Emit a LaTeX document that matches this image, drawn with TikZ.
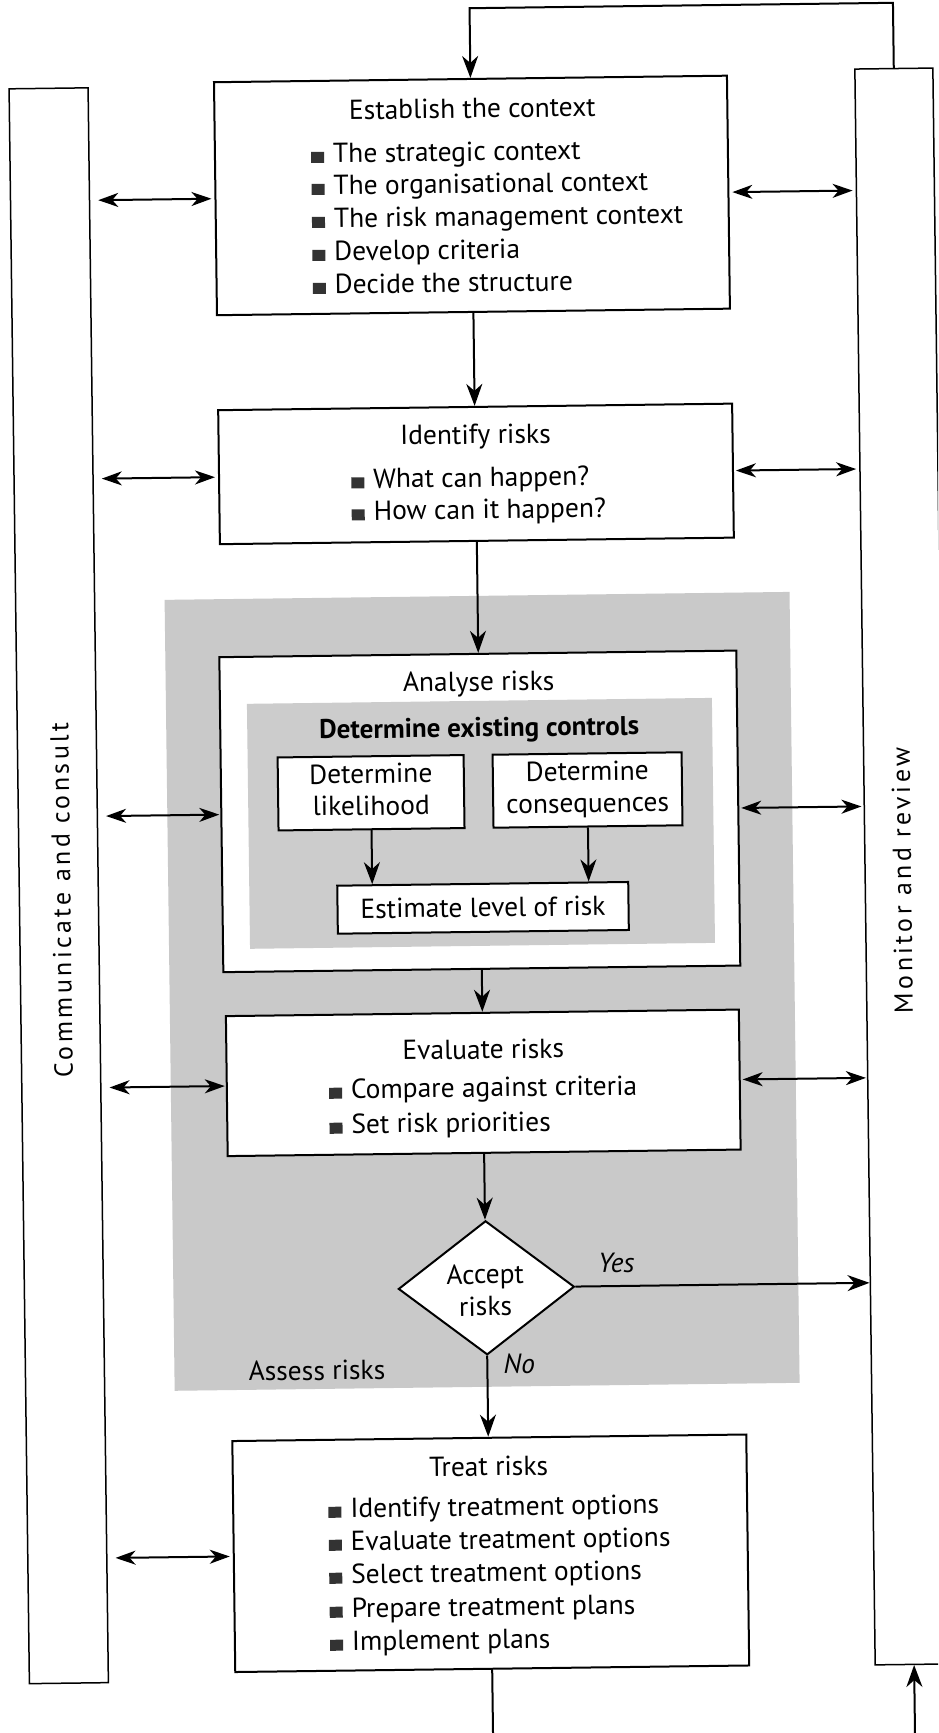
\documentclass[tikz,border=0pt]{standalone}
\usepackage{fontspec}
\setmainfont{PT Sans}
\newfontfamily\spacedfont[LetterSpace=13]{PT Sans}
\usetikzlibrary{arrows.meta,shapes.geometric}
\definecolor{assessgrey}{gray}{0.79}
\definecolor{innergrey}{gray}{0.80}
\definecolor{bulletc}{gray}{0.2}
\newcommand\bsq{{\color{bulletc}\rule{13pt}{11pt}}\hspace{9pt}}
\begin{document}
\begin{tikzpicture}[x=1pt,y=-1pt,
  box/.style={draw,line width=2pt,fill=white,inner sep=0pt},
  bar/.style={draw,line width=1.5pt,inner sep=0pt},
  txt/.style={inner sep=0pt,font=\fontsize{27.5}{32}\selectfont},
  ttl/.style={txt,anchor=base},
  bl/.style={txt,anchor=base west},
  side/.style={inner sep=0pt,rotate=90,font=\spacedfont\fontsize{26}{30}\selectfont},
  arr/.style={line width=2pt,-{Stealth[length=22pt,width=16pt,inset=7pt]}},
  darr/.style={line width=2pt,{Stealth[length=20pt,width=14pt,inset=6pt]}-{Stealth[length=20pt,width=14pt,inset=6pt]}},
]
\useasboundingbox (0,0) rectangle (938,1733);
\clip (0,0) rectangle (938,1733);
\fill[white] (0,0) rectangle (938,1733);
\begin{scope}[rotate around={0.73:(469,866)}, transform shape]
% side bars
\node[bar,minimum width=79pt,minimum height=1595pt] (cc) at (58.5,880.5) {};
\node[side] (cct) at (61,895) {Communicate and consult};
\node[bar,minimum width=78pt,minimum height=1596pt] (mr) at (904,872) {};
\node[side] (mrt) at (902,886) {Monitor and review};
% assess risks area
\node[fill=assessgrey,inner sep=0pt,minimum width=625pt,minimum height=791pt] (as) at (480.5,991.5) {};
\node[txt,anchor=base west] (asT) at (242,1378) {Assess risks};
% establish
\node[box,minimum width=513pt,minimum height=233pt] (est) at (480.5,195.5) {};
\node[ttl] (estT) at (482,118) {Establish the context};
\node[bl] (e1) at (320,161) {\bsq The strategic context};
\node[bl] (e2) at (320,193) {\bsq The organisational context};
\node[bl] (e3) at (320,226) {\bsq The risk management context};
\node[bl] (e4) at (320,259) {\bsq Develop criteria};
\node[bl] (e5) at (320,292) {\bsq Decide the structure};
% identify
\node[box,minimum width=514pt,minimum height=134pt] (ide) at (481,474) {};
\node[ttl] (ideT) at (481,444) {Identify risks};
\node[bl] (i1) at (356,487) {\bsq What can happen?};
\node[bl] (i2) at (356,519) {\bsq How can it happen?};
% analyse
\node[box,minimum width=517pt,minimum height=315pt] (ana) at (480.5,811.5) {};
\node[ttl] (anaT) at (481,691) {Analyse risks};
\node[fill=innergrey,inner sep=0pt,minimum width=465pt,minimum height=245pt] (dec) at (481.5,823.5) {};
\node[ttl,font=\bfseries\fontsize{27}{30}\selectfont] (decT) at (481,737) {Determine existing controls};
\node[box,minimum width=186pt,minimum height=73pt] (lik) at (372,791.5) {};
\node[ttl] (likA) at (372,782) {Determine};
\node[ttl] (likB) at (372,814) {likelihood};
\node[box,minimum width=189pt,minimum height=73pt] (con) at (588.5,791.5) {};
\node[ttl] (conA) at (588.5,782) {Determine};
\node[ttl] (conB) at (588.5,814) {consequences};
\node[box,minimum width=291pt,minimum height=48pt] (estm) at (482.5,908) {};
\node[ttl] (estmT) at (482.5,917) {Estimate level of risk};
% evaluate
\node[box,minimum width=513pt,minimum height=140pt] (eva) at (480.5,1083) {};
\node[ttl] (evaT) at (481,1059) {Evaluate risks};
\node[bl] (v1) at (326,1097) {\bsq Compare against criteria};
\node[bl] (v2) at (326,1132) {\bsq Set risk priorities};
% decision
\node[diamond,draw,line width=2pt,fill=white,inner sep=0pt,minimum width=176pt,minimum height=134pt] (acc) at (481,1288) {};
\node[ttl] (accA) at (480,1284) {Accept};
\node[ttl] (accB) at (480,1316) {risks};
\node[txt,anchor=base west,font=\itshape\fontsize{27.5}{32}\selectfont] (yes) at (593,1274) {Yes};
\node[txt,anchor=base west,font=\itshape\fontsize{27.5}{32}\selectfont] (no) at (497,1374) {No};
% treat
\node[box,minimum width=514pt,minimum height=231pt] (tre) at (482,1553.5) {};
\node[ttl] (treT) at (481,1476) {Treat risks};
\node[bl] (t1) at (320,1516) {\bsq Identify treatment options};
\node[bl] (t2) at (320,1549) {\bsq Evaluate treatment options};
\node[bl] (t3) at (320,1582) {\bsq Select treatment options};
\node[bl] (t4) at (320,1616) {\bsq Prepare treatment plans};
\node[bl] (t5) at (320,1649) {\bsq Implement plans};
% main flow
\draw[arr] (mr.north) -- ++(0,-65) -| (est.north);
\draw[arr] (est.south) -- (est.south |- ide.north);
\draw[arr] (ide.south) -- (ide.south |- ana.north);
\draw[arr] (ana.south) -- (ana.south |- eva.north);
\draw[arr] (eva.south) -- (eva.south |- acc.north);
\draw[arr] (acc.south) -- (acc.south |- tre.north);
\draw[arr] (acc.east) -- (acc.east -| mr.west);
\draw[arr] (tre.south) -- ++(0,120) -| (mr.south);
\draw[arr] (lik.south) -- (lik.south |- estm.north);
\draw[arr] (con.south) -- (con.south |- estm.north);
% communicate links
\draw[darr,shorten <=8pt,shorten >=3pt] (cc.east |- est.west) -- (est.west);
\draw[darr,shorten <=8pt,shorten >=3pt] (cc.east |- ide.west) -- (ide.west);
\draw[darr,shorten <=8pt,shorten >=1pt] (cc.east |- ana.west) -- (ana.west);
\draw[darr,shorten <=8pt,shorten >=1pt] (cc.east |- eva.west) -- (eva.west);
\draw[darr,shorten <=8pt,shorten >=3pt] (cc.east |- tre.west) -- (tre.west);
% monitor links
\draw[darr,shorten <=3pt,shorten >=3pt] (est.east) -- (est.east -| mr.west);
\draw[darr,shorten <=2pt,shorten >=3pt] (ide.east) -- (ide.east -| mr.west);
\draw[darr,shorten <=2pt,shorten >=2pt] (ana.east) -- (ana.east -| mr.west);
\draw[darr,shorten <=2pt,shorten >=1pt] (eva.east) -- (eva.east -| mr.west);
\end{scope}
\end{tikzpicture}
\end{document}
